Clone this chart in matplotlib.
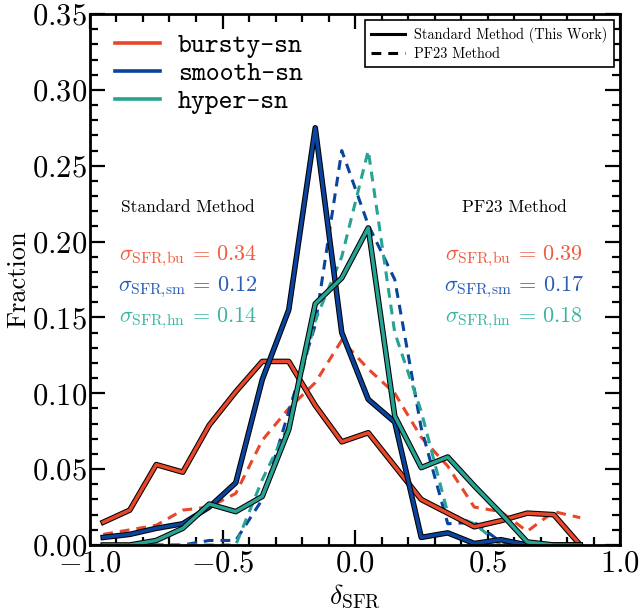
import matplotlib
matplotlib.use('Agg')
import matplotlib.pyplot as plt
import matplotlib.patheffects as pe
from matplotlib.lines import Line2D
from matplotlib.ticker import MultipleLocator, FormatStrFormatter

plt.rcParams['font.family'] = 'cmr10'
plt.rcParams['mathtext.fontset'] = 'cm'
plt.rcParams['axes.formatter.use_mathtext'] = True

# bin centres of delta_SFR
delta = [-0.95, -0.85, -0.75, -0.65, -0.55, -0.45, -0.35, -0.25, -0.15, -0.05,
         0.05, 0.15, 0.25, 0.35, 0.45, 0.55, 0.65, 0.75, 0.85]

# standard method (this work)
bursty_std = [0.015, 0.023, 0.053, 0.048, 0.079, 0.101, 0.121, 0.121, 0.092, 0.068,
              0.074, 0.052, 0.030, 0.021, 0.012, 0.016, 0.021, 0.020, 0.0]
smooth_std = [0.005, 0.007, 0.011, 0.014, 0.025, 0.041, 0.109, 0.155, 0.275, 0.140,
              0.096, 0.081, 0.005, 0.008, 0.001, 0.0035, 0.0, 0.0, 0.0]
hyper_std = [0.0, 0.0, 0.003, 0.011, 0.027, 0.022, 0.032, 0.076, 0.159, 0.176,
             0.209, 0.085, 0.051, 0.058, 0.039, 0.021, 0.002, 0.0, 0.0]

# PF23 method
bursty_pf = [0.007, 0.010, 0.013, 0.023, 0.025, 0.034, 0.069, 0.090, 0.107, 0.135,
             0.116, 0.100, 0.071, 0.052, 0.025, 0.022, 0.009, 0.022, 0.018]
smooth_pf = [0.0, 0.0, 0.0, 0.0, 0.003, 0.003, 0.030, 0.088, 0.145, 0.260,
             0.211, 0.175, 0.077, 0.014, 0.015, 0.002, 0.0, 0.0, 0.0]
hyper_pf = [0.0, 0.0, 0.0, 0.0, 0.0, 0.0, 0.043, 0.079, 0.148, 0.190,
            0.260, 0.140, 0.088, 0.021, 0.014, 0.0, 0.0, 0.0, 0.0]

models = ['bursty-sn', 'smooth-sn', 'hyper-sn']
colors = ['#e8472a', '#0b449e', '#27a393']
text_colors = ['#ef5d40', '#2b5cb5', '#3bb5a3']
sig_tags = ['bu', 'sm', 'hn']
sig_std = [0.34, 0.12, 0.14]
sig_pf = [0.39, 0.17, 0.18]

fig = plt.figure(figsize=(6.4, 6.12), dpi=100)
ax = fig.add_axes([90/640, 1-545/612, 530/640, 531/612])

outline = [pe.Stroke(linewidth=4.0, foreground='k'), pe.Normal()]
for ys, c in zip([bursty_pf, smooth_pf, hyper_pf], colors):
    ax.plot(delta, ys, color=c, lw=2.2, dashes=(3.2, 2.3))
for ys, c in zip([bursty_std, smooth_std, hyper_std], colors):
    ax.plot(delta, ys, color=c, lw=2.5, path_effects=outline)

ax.set_xlim(-1.0, 1.0)
ax.set_ylim(0.0, 0.35)
ax.xaxis.set_major_locator(MultipleLocator(0.5))
ax.xaxis.set_minor_locator(MultipleLocator(0.1))
ax.yaxis.set_major_locator(MultipleLocator(0.05))
ax.yaxis.set_minor_locator(MultipleLocator(0.01))
ax.xaxis.set_major_formatter(FormatStrFormatter('$%.1f$'))
ax.yaxis.set_major_formatter(FormatStrFormatter('$%.2f$'))
ax.tick_params(which='both', direction='in', top=True, right=True, labelsize=22, width=1.6)
ax.tick_params(which='major', length=11)
ax.tick_params(which='minor', length=5.5)
ax.tick_params(axis='y', pad=2)
for sp in ax.spines.values():
    sp.set_linewidth(2.0)

ax.set_xlabel(r'$\delta_{\rm SFR}$', fontsize=20, labelpad=4)
ax.set_ylabel('Fraction', fontsize=19, labelpad=1)

# model colour legend
h1 = [Line2D([], [], color=c, lw=2.6) for c in colors]
leg1 = ax.legend(h1, models, loc='upper left', bbox_to_anchor=(0.027, 0.983), borderaxespad=0,
                 frameon=False, prop={'family': 'cmtt10', 'size': 19},
                 handlelength=1.7, labelspacing=0.14, handletextpad=0.7)
ax.add_artist(leg1)

# method legend
h2 = [Line2D([], [], color='k', lw=2.2), Line2D([], [], color='k', lw=2.2, dashes=(3.2, 2.3))]
leg2 = ax.legend(h2, ['Standard Method (This Work)', 'PF23 Method'], loc='upper right', fontsize=10.3,
                 fancybox=False, framealpha=1, edgecolor='k', handlelength=2.4, handletextpad=0.6,
                 labelspacing=0.3, borderpad=0.45, borderaxespad=0.45)
leg2.get_frame().set_linewidth(1.2)

# scatter of each model under both methods
for xc, title, sigs in [(0.185, 'Standard Method', sig_std), (0.80, 'PF23 Method', sig_pf)]:
    ax.text(xc, 0.635, title, transform=ax.transAxes, ha='center', va='center', fontsize=12.5)
    for i in range(3):
        ax.text(xc, 0.544 - 0.0585*i, r'$\sigma_{\mathrm{SFR{,}%s}}\,=\,%.2f$' % (sig_tags[i], sigs[i]),
                transform=ax.transAxes, ha='center', va='center', fontsize=16, color=text_colors[i])

fig.savefig('out.png', dpi=100)
